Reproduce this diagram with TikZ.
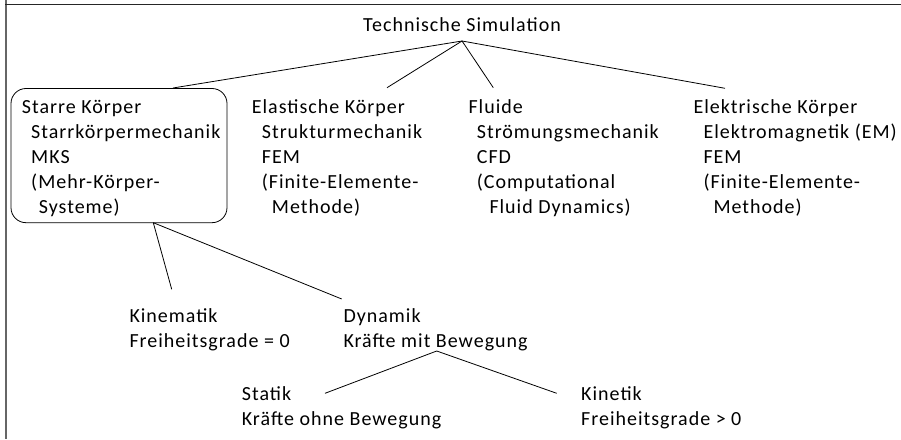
\documentclass[tikz,border=0pt]{standalone}
\usepackage{fontspec}
\setmainfont[LetterSpace=5]{Carlito}
\usepackage{tikz}

\begin{document}
\begin{tikzpicture}[x=1pt, y=1pt,
  txt/.style={draw=none, inner sep=0pt, anchor=base west, align=left,
    font=\fontsize{20}{25}\selectfont},
  ast/.style={line width=0.8pt}]
\useasboundingbox (0,0) rectangle (901,439);

% frame
\draw[line width=2pt, color=black!60] (6,439) -- (6,0);
\draw[line width=1pt, color=black!85] (5,434) -- (901,434);

% base west = baseline of the last line
\node[txt] (simu) at (363,407) {Technische Simulation};

\node[txt] (starr) at (21.7,225.3) {Starre K\"orper\\
  \hspace*{9.3pt}Starrk\"orpermechanik\\
  \hspace*{9.3pt}MKS\\
  \hspace*{9.3pt}(Mehr-K\"orper-\\
  \hspace*{17pt}Systeme)};
\node[txt] (elast) at (251.7,225.3) {Elastische K\"orper\\
  \hspace*{10pt}Strukturmechanik\\
  \hspace*{10pt}FEM\\
  \hspace*{10pt}(Finite-Elemente-\\
  \hspace*{20pt}Methode)};
\node[txt] (fluid) at (468.3,225.3) {Fluide\\
  \hspace*{8.4pt}Str\"omungsmechanik\\
  \hspace*{8.4pt}CFD\\
  \hspace*{8.4pt}(Computational\\
  \hspace*{21pt}Fluid Dynamics)};
\node[txt] (elek) at (693.3,225.3) {Elektrische K\"orper\\
  \hspace*{10pt}Elektromagnetik (EM)\\
  \hspace*{10pt}FEM\\
  \hspace*{10pt}(Finite-Elemente-\\
  \hspace*{20pt}Methode)};

% box round the rigid bodies
\draw[ast, rounded corners=15pt] (11,216.3) rectangle (227,350.5);

\node[txt] (kinem) at (129.3,92) {Kinematik\\Freiheitsgrade = 0};
\node[txt] (dynam) at (343.3,92) {Dynamik\\Kr\"afte mit Bewegung};
\node[txt] (statik) at (241.7,13.7) {Statik\\Kr\"afte ohne Bewegung};
\node[txt] (kinet) at (581,13.7) {Kinetik\\Freiheitsgrade > 0};

\draw[ast] ([yshift=-9pt]simu.base) -- ([shift={(151.3pt,125.7pt)}]starr.base west);
\draw[ast] ([yshift=-9pt]simu.base) -- ([shift={(135.3pt,126pt)}]elast.base west);
\draw[ast] ([yshift=-9pt]simu.base) -- ([shift={(25pt,126pt)}]fluid.base west);
\draw[ast] ([yshift=-9pt]simu.base) -- ([shift={(31.7pt,125.4pt)}]elek.base west);

\draw[ast] ([shift={(131.6pt,-9pt)}]starr.base west) -- ([shift={(42.4pt,57.7pt)}]kinem.base west);
\draw[ast] ([shift={(131.6pt,-9pt)}]starr.base west) -- ([shift={(-1.6pt,48pt)}]dynam.base west);

\draw[ast] ([shift={(93.4pt,-4pt)}]dynam.base west) -- ([shift={(83.3pt,32pt)}]statik.base west);
\draw[ast] ([shift={(93.4pt,-4pt)}]dynam.base west) -- ([shift={(-24.3pt,32pt)}]kinet.base west);
\end{tikzpicture}
\end{document}
